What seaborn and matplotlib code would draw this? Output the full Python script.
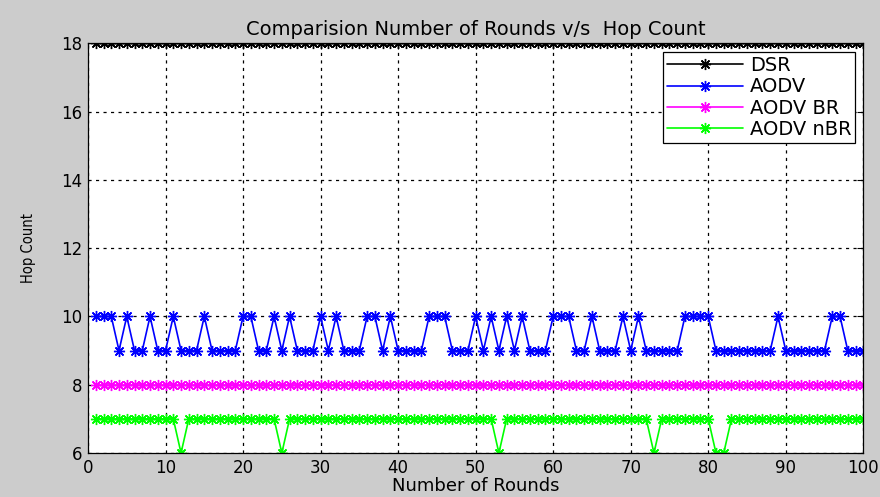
import matplotlib
matplotlib.use("Agg")
import matplotlib.pyplot as plt
import seaborn as sns
import pandas as pd

rounds = list(range(1, 101))
dsr = [18] * 100
aodv = [10, 10, 10, 9, 10, 9, 9, 10, 9, 9, 10, 9, 9, 9, 10, 9, 9, 9, 9, 10,
        10, 9, 9, 10, 9, 10, 9, 9, 9, 10, 9, 10, 9, 9, 9, 10, 10, 9, 10, 9,
        9, 9, 9, 10, 10, 10, 9, 9, 9, 10, 9, 10, 9, 10, 9, 10, 9, 9, 9, 10,
        10, 10, 9, 9, 10, 9, 9, 9, 10, 9, 10, 9, 9, 9, 9, 9, 10, 10, 10, 10,
        9, 9, 9, 9, 9, 9, 9, 9, 10, 9, 9, 9, 9, 9, 9, 10, 10, 9, 9, 9]
aodv_br = [8] * 100
aodv_nbr = [7] * 100
for r in [12, 25, 53, 73, 81, 82]:
    aodv_nbr[r - 1] = 6

series_names = ["DSR", "AODV", "AODV BR", "AODV nBR"]
colors = ["#000000", "#0000ff", "#ff00ff", "#00ff00"]
yticks = [6, 8, 10, 12, 14, 16, 18]
xticks = [0, 10, 20, 30, 40, 50, 60, 70, 80, 90, 100]

df = pd.DataFrame({
    "Round": rounds * 4,
    "Hops": dsr + aodv + aodv_br + aodv_nbr,
    "Protocol": sum([[n] * 100 for n in series_names], []),
})

sns.set_style("white")
plt.rcParams["font.family"] = ["DejaVu Sans"]
plt.rcParams["text.color"] = "black"
plt.rcParams["axes.labelcolor"] = "black"

fig = plt.figure(figsize=(8.8, 4.97), dpi=100, facecolor="#cccccc")
ax = fig.add_axes([0.1, 0.0885, 0.881, 0.8245])
ax.set_facecolor("white")

asterisk = (8, 2, 0)
sns.lineplot(data=df, x="Round", y="Hops", hue="Protocol", hue_order=series_names,
             palette=colors, marker=asterisk, markersize=8, markeredgewidth=1.0,
             linewidth=1.2, ax=ax, legend=False)

for line, c in zip(ax.lines, colors):
    line.set_markeredgecolor(c)
    line.set_markerfacecolor(c)

ax.set_xlim(0, 100)
ax.set_ylim(6, 18)
ax.set_xticks(xticks)
ax.set_yticks(yticks)
ax.tick_params(direction="in", length=4, top=True, right=True, labelsize=12,
               colors="black", pad=4)
ax.grid(True, color="black", linestyle=(0, (2.5, 3.5)), linewidth=0.9)
for s in ax.spines.values():
    s.set_visible(True)
    s.set_color("black")
    s.set_linewidth(0.9)

ax.set_title("Comparision Number of Rounds v/s  Hop Count", fontsize=14, pad=6,
             color="black")
ax.set_xlabel("Number of Rounds", fontsize=13, labelpad=0)
ax.set_ylabel("Hop Count", fontsize=10.5, labelpad=18, fontstretch="condensed")

leg = ax.legend(ax.lines[:4], series_names, loc="upper right",
                bbox_to_anchor=(0.9897, 0.978), fontsize=14,
                frameon=True, fancybox=False, edgecolor="black", framealpha=1,
                handlelength=3.9, borderpad=0.2, labelspacing=0.12,
                borderaxespad=0, handletextpad=0.35)
leg.get_frame().set_linewidth(0.9)
for t in leg.get_texts():
    t.set_color("black")

fig.savefig("out.png", dpi=100, facecolor=fig.get_facecolor())
